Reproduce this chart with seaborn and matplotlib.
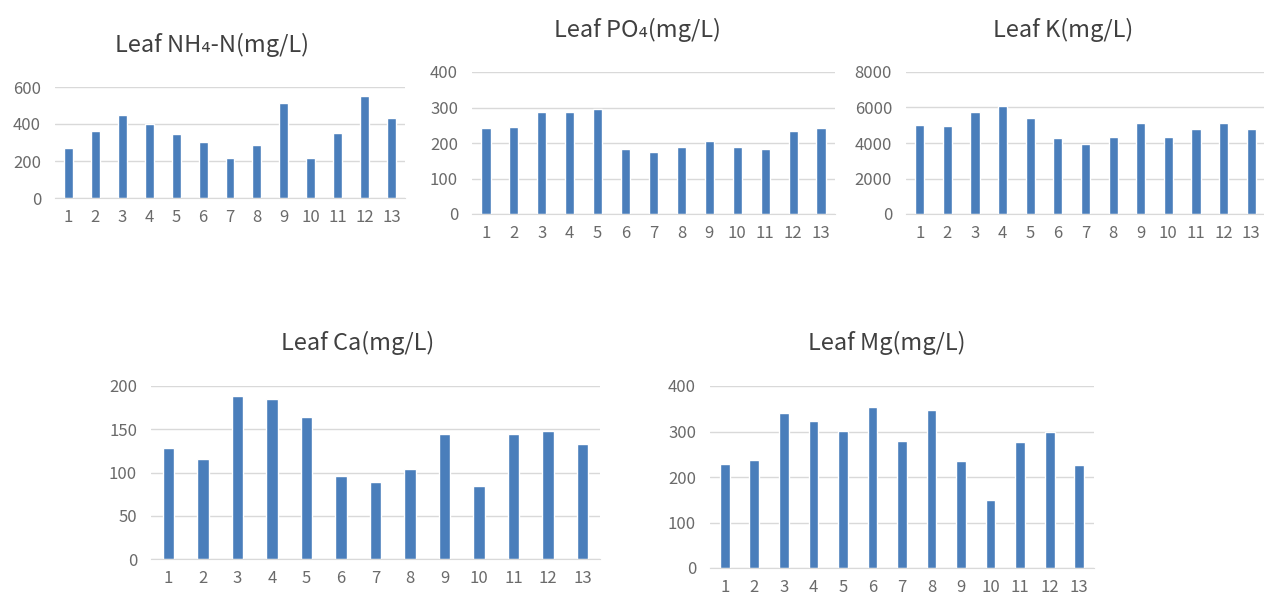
import numpy as np
import pandas as pd
import matplotlib
matplotlib.use("Agg")
import matplotlib.pyplot as plt
import seaborn as sns

# datos
samples = [str(i) for i in range(1, 14)]
nh4_n = [270, 362, 450, 398, 348, 303, 215, 288, 516, 215, 353, 552, 435]
po4 = [242, 245, 288, 288, 295, 184, 176, 188, 207, 188, 184, 234, 242]
k = [5040, 4965, 5730, 6110, 5415, 4270, 3970, 4345, 5115, 4345, 4815, 5115, 4815]
ca = [128, 116, 188, 185, 164, 96, 89, 104, 144, 84, 144, 148, 133]
mg = [228, 237, 341, 323, 302, 353, 279, 347, 236, 150, 276, 300, 226]

titles = ["Leaf NH\u2084-N(mg/L)", "Leaf PO\u2084(mg/L)", "Leaf K(mg/L)",
          "Leaf Ca(mg/L)", "Leaf Mg(mg/L)"]
y_ticks = [[0, 200, 400, 600], [0, 100, 200, 300, 400],
           [0, 2000, 4000, 6000, 8000], [0, 50, 100, 150, 200],
           [0, 100, 200, 300, 400]]

sns.set_style("white")
plt.rcParams['font.family'] = ['Noto Sans CJK KR', 'DejaVu Sans']

W, H = 1264, 600
fig = plt.figure(figsize=(W / 100, H / 100), dpi=100)

# posiciones en píxeles: (izquierda, arriba, derecha, abajo) del área de trazado
boxes = [(55, 87, 405, 198), (472, 72, 835, 214), (906, 72, 1265, 214),
         (151, 386, 600, 559), (710, 386, 1094, 568)]
title_pos = [(212, 45), (637, 30), (1063, 30), (358, 343), (887, 343)]

bar_color = "#4A7EBB"
grid_color = "#d9d9d9"
text_color = "#6a6a6a"

for vals, title, ticks, box, tpos in zip([nh4_n, po4, k, ca, mg], titles, y_ticks, boxes, title_pos):
    l, t, r, b = box
    ax = fig.add_axes([l / W, 1 - b / H, (r - l) / W, (b - t) / H])
    df = pd.DataFrame({"sample": samples, "value": vals})
    sns.barplot(data=df, x="sample", y="value", color=bar_color, width=0.33,
                saturation=1, ax=ax)
    ax.set_ylim(ticks[0], ticks[-1])
    ax.set_xlim(-0.5, len(samples) - 0.5)
    ax.set_yticks(ticks)
    ax.set_xlabel("")
    ax.set_ylabel("")
    ax.yaxis.grid(True, color=grid_color, linewidth=1)
    ax.set_axisbelow(True)
    for side in ["top", "right", "left"]:
        ax.spines[side].set_visible(False)
    ax.spines["bottom"].set_color(grid_color)
    ax.tick_params(axis="both", length=0, labelsize=12, colors=text_color)
    ax.tick_params(axis="y", pad=10)
    ax.tick_params(axis="x", pad=8)
    fig.text(tpos[0] / W, 1 - tpos[1] / H, title, ha="center", va="center",
             fontsize=17, color="#404040")

fig.savefig("out.png", dpi=100)
